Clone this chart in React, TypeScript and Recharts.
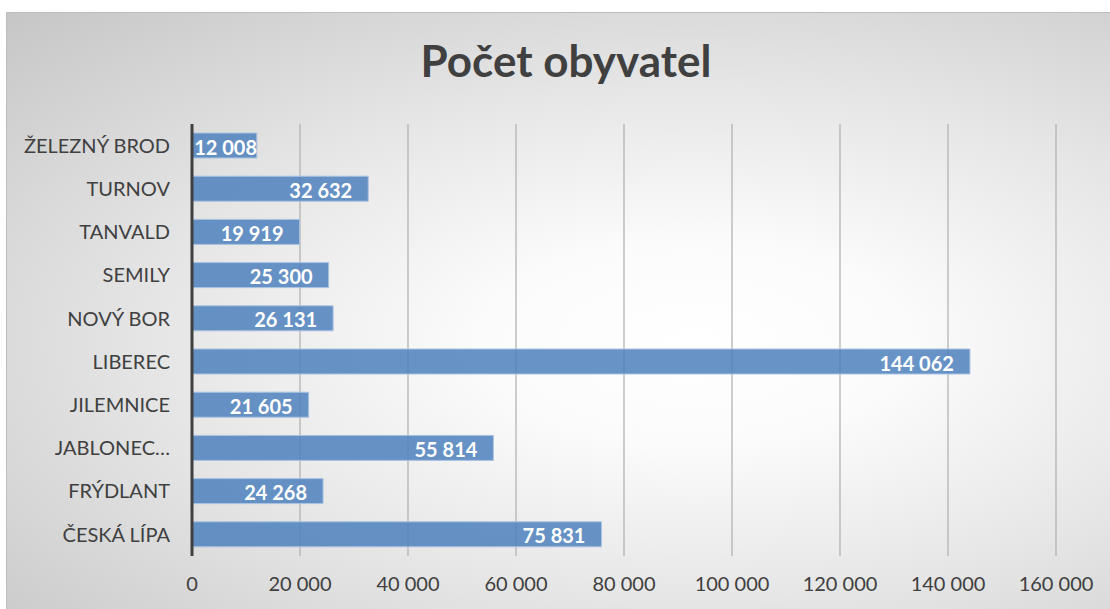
import React from 'react';
import { BarChart, Bar, XAxis, YAxis, CartesianGrid, LabelList } from 'recharts';

const categories = [
  'ŽELEZNÝ BROD',
  'TURNOV',
  'TANVALD',
  'SEMILY',
  'NOVÝ BOR',
  'LIBEREC',
  'JILEMNICE',
  'JABLONEC NAD NISOU',
  'FRÝDLANT',
  'ČESKÁ LÍPA',
];
const population = [12008, 32632, 19919, 25300, 26131, 144062, 21605, 55814, 24268, 75831];
const xTicks = [0, 20000, 40000, 60000, 80000, 100000, 120000, 140000, 160000];
const title = 'Počet obyvatel';

const data = categories.map((c, i) => ({ name: c, value: population[i] }));

const fmt = (v: number) => String(v).replace(/\B(?=(\d{3})+(?!\d))/g, ' ');
const catFmt = (v: string) => (v.length > 14 ? v.split(' ')[0] + '…' : v);

const FONT = 'Lato, "Open Sans", sans-serif';

const BarLabel = (props: any) => {
  const { x, y, width, height, value } = props;
  const s = fmt(value);
  let tw = 0;
  for (const ch of s) tw += ch === ' ' ? 5 : 11.6;
  const endX = Math.max(x + width - 16, x + 2 + tw);
  return (
    <text
      x={endX}
      y={y + height / 2 + 1}
      textAnchor="end"
      dominantBaseline="central"
      fill="#ffffff"
      fontFamily={FONT}
      fontWeight={700}
      fontSize={20}
    >
      {s}
    </text>
  );
};

export default function App() {
  return (
    <div style={{ position: 'fixed', left: 0, top: 0, width: 1110, height: 609, background: '#ffffff', overflow: 'hidden' }}>
      <div
        style={{
          position: 'absolute',
          left: 6,
          top: 12,
          width: 1110,
          height: 600,
          boxSizing: 'border-box',
          borderTop: '1px solid #bdbdbd',
          borderLeft: '1px solid #bdbdbd',
          background: 'radial-gradient(ellipse farthest-corner at 62% 55%, #ffffff 0%, #fbfbfb 22%, #e6e6e6 55%, #c6c6c6 100%)',
        }}
      />
      <div
        style={{
          position: 'absolute',
          left: 6,
          top: 34,
          width: 1120,
          textAlign: 'center',
          fontFamily: FONT,
          fontWeight: 700,
          fontSize: 44,
          color: '#404040',
          lineHeight: '52px',
        }}
      >
        {title}
      </div>
      <div style={{ position: 'absolute', left: 6, top: 12 }}>
        <BarChart
          width={1104}
          height={597}
          data={data}
          layout="vertical"
          margin={{ top: 112, right: 54, left: 0, bottom: 0 }}
        >
          <CartesianGrid horizontal={false} vertical={true} stroke="#b3b3b3" strokeWidth={1.3} />
          <XAxis
            type="number"
            domain={[0, 160000]}
            ticks={xTicks}
            tickFormatter={fmt}
            axisLine={false}
            tickLine={false}
            tickSize={0}
            tickMargin={21}
            height={53}
            interval={0}
            tick={{ fill: '#404040', fontSize: 20, fontFamily: FONT }}
          />
          <YAxis
            type="category"
            dataKey="name"
            width={186}
            tickFormatter={catFmt}
            axisLine={{ stroke: '#404040', strokeWidth: 3 }}
            tickLine={false}
            tickSize={0}
            tickMargin={22}
            interval={0}
            tick={{ fill: '#404040', fontSize: 20, fontFamily: FONT }}
          />
          <Bar
            dataKey="value"
            fill="rgba(79,129,189,0.86)"
            stroke="#a9c3e3"
            strokeWidth={1}
            barSize={25}
            isAnimationActive={false}
          >
            <LabelList dataKey="value" content={BarLabel} />
          </Bar>
        </BarChart>
      </div>
    </div>
  );
}
